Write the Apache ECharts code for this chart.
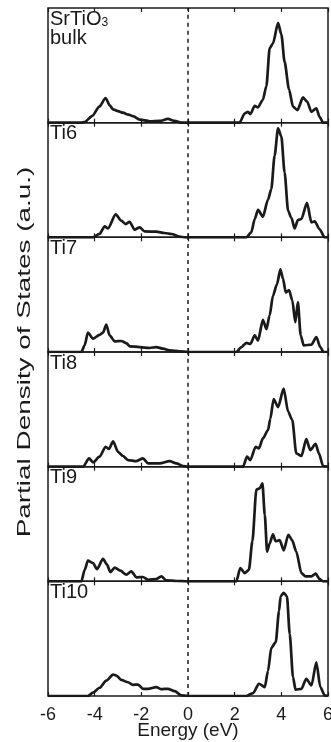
<!DOCTYPE html>
<html>
    <head>
        <meta charset="utf-8">
        <script src="https://cdn.jsdelivr.net/npm/echarts@6/dist/echarts.min.js"></script>
        <style>
            html, body { margin: 0; padding: 0; background: #fff; overflow: hidden; }
            #main { width: 331px; height: 742px; }
        </style>
    </head>
    <body>
        <div id="main"></div>
        <script>
            // [energy (eV), PDOS in % of panel height]
            var bulk = [[-6,0],[-4.6,0],[-4.43,0.5],[-4.1,6],[-3.8,14],[-3.53,21.5],[-3.35,15],[-3.21,11.6],[-3.0,10],[-2.79,8.7],[-2.55,7],[-2.36,5.7],[-2.07,2.7],[-1.64,1.2],[-1.21,1.5],[-0.86,3.3],[-0.57,1.5],[-0.29,0],[2.21,0],[2.43,8],[2.57,9.5],[2.67,7.5],[2.86,14.6],[3.0,13.4],[3.21,20],[3.36,32],[3.5,65],[3.64,69],[3.86,87],[4.0,77],[4.14,53],[4.33,29],[4.5,14],[4.69,11],[4.93,22],[5.1,18.5],[5.29,9.5],[5.5,12.5],[5.64,5],[5.79,0],[6,0]];
            var ti6 = [[-6,0],[-4.07,0],[-3.79,3],[-3.57,9.6],[-3.43,7.8],[-3.1,20],[-2.86,14.5],[-2.67,11.6],[-2.5,13.6],[-2.29,6.7],[-2.07,8.7],[-1.86,5.2],[-1.36,4.9],[-1.0,3.8],[-0.71,2.9],[-0.36,0.6],[-0.14,0],[2.5,0],[2.71,4.3],[2.86,16],[3.0,24],[3.21,18],[3.43,33],[3.57,42],[3.71,71],[3.86,95],[4.0,88],[4.14,56.5],[4.29,23],[4.43,17],[4.57,7.8],[4.71,15],[4.86,16],[5.1,30],[5.29,13],[5.43,14],[5.64,7],[5.86,0],[6,0]];
            var ti7 = [[-6,0],[-4.57,0],[-4.43,5.8],[-4.29,17],[-4.07,11.6],[-3.79,15],[-3.64,17],[-3.5,24],[-3.36,14.5],[-3.14,9.3],[-2.86,9.6],[-2.64,7.8],[-2.5,5],[-2.07,4.3],[-1.64,3.5],[-1.36,4.3],[-1.07,2.9],[-0.79,1.4],[-0.36,0.6],[0,0],[2.07,0],[2.29,4.3],[2.5,8],[2.67,7],[2.86,14.5],[3.0,10],[3.21,28],[3.36,20],[3.5,32],[3.64,49],[3.81,59],[3.96,72],[4.07,64],[4.19,52],[4.33,54],[4.47,45],[4.6,26],[4.71,43.5],[4.83,14.5],[4.96,5.8],[5.29,6.4],[5.5,13],[5.67,4.3],[5.81,0],[6,0]];
            var ti8 = [[-6,0],[-4.5,0],[-4.24,7.2],[-4.07,3.8],[-3.79,8.7],[-3.53,17.4],[-3.39,15.4],[-3.21,22],[-3.0,13],[-2.79,9.3],[-2.57,5.8],[-2.21,4.9],[-1.93,7.2],[-1.71,2.9],[-1.21,2.9],[-0.79,4.9],[-0.5,2.9],[-0.21,0.6],[0,0],[2.36,0],[2.53,8.7],[2.67,5.8],[2.9,17.4],[3.04,16],[3.21,24.6],[3.43,32],[3.53,42],[3.67,59],[3.86,52],[4.1,68],[4.29,48],[4.47,40.6],[4.64,11.6],[4.86,9.3],[5.07,24],[5.24,14.5],[5.47,20],[5.61,11.6],[5.79,0.6],[6,0]];
            var ti9 = [[-6,0],[-4.57,0],[-4.43,10],[-4.29,18],[-4.07,16],[-3.9,10.7],[-3.64,19.7],[-3.47,14.5],[-3.33,8],[-3.14,12],[-2.9,9.3],[-2.64,5.8],[-2.43,8.7],[-2.21,3.5],[-1.93,3.8],[-1.71,1.4],[-1.36,2],[-1.14,4.3],[-0.93,0.9],[-0.5,0.3],[0,0],[2.07,0],[2.24,11.6],[2.43,7.2],[2.61,10],[2.76,35],[2.93,80],[3.07,81],[3.19,85.5],[3.29,58],[3.39,26],[3.5,33],[3.64,41],[3.76,35],[3.93,36],[4.1,27],[4.3,40.6],[4.46,36],[4.64,26],[4.86,7.2],[5.04,4.3],[5.29,4.3],[5.47,6.7],[5.64,2],[5.79,0],[6,0]];
            var ti10 = [[-6,0],[-4.29,0],[-4.07,2.9],[-3.79,7.2],[-3.5,13.5],[-3.21,18.7],[-3.07,17.9],[-2.86,14],[-2.57,12],[-2.36,9.8],[-2.14,10],[-1.93,6.3],[-1.71,6.3],[-1.36,7.8],[-1.14,6],[-0.86,6.3],[-0.57,4.3],[-0.29,0.6],[0,0],[2.5,0],[2.79,2.6],[3.04,10.7],[3.29,7.8],[3.43,22],[3.57,42],[3.76,47],[3.9,74],[3.97,87],[4.1,90],[4.24,87],[4.36,54],[4.5,16.4],[4.61,5.5],[4.86,6.3],[5.07,15],[5.29,9.2],[5.5,29.4],[5.67,7.8],[5.86,0.6],[6,0]];

            var panels = [bulk, ti6, ti7, ti8, ti9, ti10];
            var panelNames = ['', 'Ti6', 'Ti7', 'Ti8', 'Ti9', 'Ti10'];

            var font = 'Arial, "Liberation Sans", sans-serif';
            var ink = '#1a1a1a';
            var top0 = 8;
            var h = 114.67;

            var grids = [], xAxes = [], yAxes = [], series = [], graphics = [];

            panels.forEach(function (data, i) {
                var last = i === panels.length - 1;
                grids.push({
                    left: 48, right: 3,
                    top: top0 + i * h,
                    height: h,
                    outerBoundsMode: 'none',
                    show: true,
                    borderColor: ink,
                    borderWidth: 1.5
                });
                // bottom axis
                xAxes.push({
                    type: 'value', gridIndex: i,
                    min: -6, max: 6, interval: 2,
                    axisLine: { show: false },
                    axisTick: { show: true, inside: true, length: 4, lineStyle: { color: ink, width: 1.2 } },
                    splitLine: { show: false },
                    axisLabel: {
                        show: last, margin: 10,
                        fontFamily: font, fontSize: 18, color: ink
                    },
                    name: last ? 'Energy (eV)' : '',
                    nameLocation: 'middle',
                    nameGap: 25,
                    nameMoveOverlap: false,
                    nameTextStyle: { fontFamily: font, fontSize: 19, color: ink }
                });
                // top axis, ticks only
                xAxes.push({
                    type: 'value', gridIndex: i, position: 'top',
                    min: -6, max: 6, interval: 2,
                    axisLine: { show: false },
                    axisTick: { show: true, inside: true, length: 4, lineStyle: { color: ink, width: 1.2 } },
                    splitLine: { show: false },
                    axisLabel: { show: false }
                });
                yAxes.push({
                    type: 'value', gridIndex: i,
                    min: 0, max: 100,
                    show: false
                });
                series.push({
                    type: 'line',
                    xAxisIndex: 2 * i,
                    yAxisIndex: i,
                    data: data,
                    showSymbol: false,
                    smooth: 0.25,
                    smoothMonotone: 'x',
                    lineStyle: { color: ink, width: 2.7 },
                    markLine: {
                        silent: true,
                        symbol: 'none',
                        label: { show: false },
                        lineStyle: { color: ink, width: 1.5, type: [4, 4] },
                        data: [{ xAxis: 0 }]
                    }
                });
                if (panelNames[i]) {
                    graphics.push({
                        type: 'text',
                        left: 50,
                        top: top0 + i * h + 1,
                        style: { text: panelNames[i], font: '20px ' + font, fill: ink }
                    });
                }
            });

            graphics.push({
                type: 'text',
                left: 50,
                top: top0 + 1,
                style: {
                    text: '{a|SrTiO}{s|3}\n{a|bulk}',
                    fill: ink,
                    rich: {
                        a: { fontSize: 20, fontFamily: font, lineHeight: 19, color: ink },
                        s: { fontSize: 12, fontFamily: font, lineHeight: 8, verticalAlign: 'bottom', color: ink }
                    }
                }
            });

            graphics.push({
                type: 'text',
                x: 25, y: 352,
                rotation: Math.PI / 2,
                scaleX: 1.55,
                style: {
                    text: 'Partial Density of States (a.u.)',
                    font: '18px ' + font,
                    fill: ink,
                    align: 'center',
                    verticalAlign: 'middle'
                }
            });

            var chart = echarts.init(document.getElementById('main'));
            chart.setOption({
                animation: false,
                backgroundColor: '#fff',
                grid: grids,
                xAxis: xAxes,
                yAxis: yAxes,
                series: series,
                graphic: graphics
            });
        </script>
    </body>
</html>
